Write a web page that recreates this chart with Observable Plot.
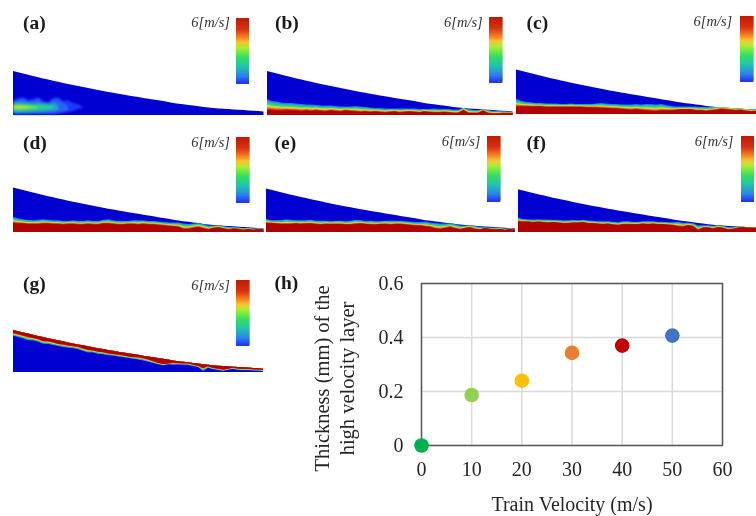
<!DOCTYPE html>
<html>
<head>
<meta charset="utf-8">
<script src="https://cdn.jsdelivr.net/npm/d3@7"></script>
<script src="https://cdn.jsdelivr.net/npm/@observablehq/plot@0.6"></script>
<style>
html,body{margin:0;padding:0;background:#fff;overflow:hidden}
#page{position:relative;width:756px;height:516px;overflow:hidden;background:#fff}
#page svg{position:absolute;display:block;filter:blur(0.35px)}
</style>
</head>
<body>
<div id="page"></div>
<script>
// Scatter panel (h)
const trainVelocity = [0, 10, 20, 30, 40, 50];
const layerThickness = [0, 0.187, 0.24, 0.343, 0.37, 0.407];
const pointColors = ["#00b050", "#92d050", "#ffc000", "#ed7d31", "#c00000", "#4472c4"];
const xTicks = [0, 10, 20, 30, 40, 50, 60];
const yTicks = [0, 0.2, 0.4, 0.6];

// Field panels: distance along the wedge and wedge height
const stations = d3.range(51).map(i => i * 5);
const wedgeTop = [44,42.7,41.5,40.3,39,37.8,36.6,35.4,34.3,33.2,32.1,31,29.9,28.9,27.9,26.9,25.9,25,24,23.1,22.2,21.3,20.5,19.6,18.8,18,17.1,16.3,15.5,14.7,13.9,13,12,11.3,10.7,10.1,9.4,8.8,8,7.5,7,6.6,6.2,5.9,5.6,5.3,4.9,4.6,4.2,3.9,3.5];

// (a): isolated jet, lower and upper edge per velocity level
const aFaintLo = [1,0.5,1,0.5,1,0.5,1,1,0.5,1,2,3,4,6,7];
const aFaintHi = [14,17,18,15,16,18,14,13,17,18,14,15,12,11,8];
const aHazeLo = [1.5,1,1.5,1,1.5,1.5,2,1.5,2,3,3.5,4.5];
const aHazeHi = [13,15,16,14,14,16,13,12,15,15,12,9];
const aTealLo = [3,2.5,2.5,3,3,3.5,3.5,4,4.5,5];
const aTealHi = [12,13,12.5,12,11.5,12,11.5,11,11.5,10];
const aGreenLo = [4.5,4,4.5,4.5,5,5,5.5,6,6.5];
const aGreenHi = [10.5,11,10.5,10.5,10,10,10,9.5,9];
const aLimeLo = [5.5,5.5,5.5,6,6.5,7];
const aLimeHi = [9.5,10,10,9.5,9,8.5];
const aYellowLo = [7,7,7,7.3];
const aYellowHi = [8.5,8.8,8.8,8.5];

// (b)-(f): top of the solid red layer and of the transition band
const bRed = [5,5,4.5,4.5,4.8,4.5,4.5,4,4.5,4,4.5,4,3.5,4.5,4,3.5,4.5,4,3.5,3,3.5,3,3.5,3,2.5,3,3.5,2.5,3,3.5,3,2.5,3.5,3,2.5,2.5,3,2.5,2,2,5,2,2,2,4.5,2,1.5,1.5,2,2,2];
const bBand = [16,14,13.5,12.5,12,12,11.5,11,10.5,10.5,10,9.5,9.5,9.5,9,8.5,8.5,8.5,9,8.5,8,7.5,7,7,6.5,6.5,6.5,6.5,6.5,6.5,6.5,6,6,6,6.5,6,6,6,5.5,5.5,8,6,5,5,7,5,4,4,3.7,3.5,3.3];
const cRed = [7.5,7.5,7.5,7.5,7.5,7.5,7,7,7,7,7,7,7,7,6.5,6.5,6.5,6,6,5.5,5.5,5,4.5,4,4.5,4,3.5,3,3,3.5,3.5,3.5,4,4.5,4.5,4.5,3.5,3.5,3,3.5,4,5,4.5,4,3.5,4,3,2.5,3,3,3];
const cBand = [15,13,12,11.5,11,11,10.5,10.5,10.5,10,10,10.5,10,10,10,10,10.5,11,10.5,10,10,9.5,9.5,9.5,10,9.5,10,10,9.5,10,9,8,7.5,7.5,7.5,7.5,7.5,7,7,7,8,8.5,8,7.5,7,7,6,5.5,5,4.5,4];
const dRed = [9,8.5,8.5,8,8,8,8.5,8.5,8,8,7.5,8,8,7.5,7.5,8,7.5,7.5,8.5,8.5,8,7.5,7.5,8,8,7.5,8,7.5,7.5,7,6.5,6,5.5,5,3,3,4,5,3.5,2.5,4,4.5,3.5,2.5,3.5,3,2,3,2,3,2.5];
const dBand = [15,13.5,12.5,12,11.5,12,12.5,12,11.5,11.5,11,11,11.5,11,11,11.5,11,11,12,12.5,11.5,11,11,11,11.5,11.5,11.5,11,11,10.5,10,9.5,9.5,9.5,8.5,8,8.5,9,8,6.5,6.5,7,6,5,5,4.5,4,4,3.5,3.5,3.3];
const eRed = [9,9,8.5,8,8,8,8.5,8,8.5,8.5,8,7.5,8,8,8,8,7.5,7.5,8,8.5,8,7.5,7.5,8,8,7.5,8,8,7.5,7,6.5,6.5,5.5,5,3.5,3,4,5,3.5,2.5,4,4.5,3,2.5,4,3,2.5,3,2,3,2.5];
const eBand = [13.5,12,12,12,13,12.5,12,12,12,12.5,11.5,11.5,11.5,11,11.5,11.5,11,11.5,12.5,12,11,11.5,11,11,11.5,11.5,11.5,11.5,11,10.5,10,10,10.5,9.5,9,8.5,8.5,9,8,6.5,6.5,7,6,5,4.5,4.5,4,4,3.5,3.5,3.3];
const fRed = [11,10.5,10.5,10,10.5,10,9.5,10,9.5,9,9,9.5,9.5,10,9,9,8.5,8,8.5,7.5,7,8,8,8,8,8.5,8,8.5,8,8,7.5,7,6,5.5,7,6,2,4.5,4.5,3.5,5,4,2.5,3,4.5,5,4.5,4.5,4,3,3];
const fBand = [15,13.5,13,13,13,13,13,12.5,12.5,12,12,12.5,12,12.5,12,11.5,11,11,11,10.5,10,11,11,10.5,10.5,11,11,11,10.5,10.5,10,10,10.5,9.5,9.5,9,7,7,7,6.5,7,6.5,5,5,6,6,5.5,5,4.5,4,4];

// (g): depth of the red layer and of the transition band below the wedge surface
const gRedDepth = [3,3,3,3.5,3,3,4,3,3,3.5,3,3,2.5,2.5,3,3.5,3,3.5,3,3.5,3,3,3,3,3,2.3,2.5,3,4,5,5.3,4,2.3,2,1.5,1,1.5,2.3,3.7,1.3,2.7,3,3.7,2.5,1,1.7,1.5,1.3,1.3,1.2,1.2];
const gBandDepth = [6,6,6.5,7,6,6,7,6,6,6,6,5.5,5,5,6,6.5,5.5,6,5.5,5.5,5,5,5,5,5,5,5,5.5,6,6.5,6.7,5,4.3,3.5,3,2.7,3,3.5,7,3,4,4.5,5,3.5,2.5,3.3,3,2.7,2.5,2.5,2.5];

// Velocity colour scale
const velocityStops = [0, 0.7, 1.5, 2.4, 3.3, 3.8, 4.3, 5, 6, 6.5];
const velocityColors = ["#1c2cff", "#2a80f0", "#20c0b0", "#30e060", "#a8f030", "#ffc030", "#f57a20", "#d83010", "#c01800", "#b00000"];
const velocityScale = {type: "linear", domain: velocityStops, range: velocityColors};
const colorbarSteps = d3.range(0, 6, 0.125);
const bandLevels = [[0.6, 1], [1.5, 0.82], [2.4, 0.62], [3.3, 0.48], [3.8, 0.36], [4.4, 0.24], [5.2, 0.12], [6.5, 0]];
const wedgeBlue = "#0000d2";

const serif = "'Liberation Serif','Times New Roman',serif";
const page = document.getElementById("page");
function place(svg, left, top) {
  svg.style.left = left + "px";
  svg.style.top = top + "px";
  page.appendChild(svg);
}
function softened(amount) {
  return (index, scales, values, dimensions, context, next) => {
    const g = next(index, scales, values, dimensions, context);
    g.style.filter = `blur(${amount}px)`;
    return g;
  };
}

function risingRows(red, band) {
  return bandLevels.flatMap(([level, t]) => stations.map((x, i) => ({
    x, level, y1: 0, y2: Math.min(wedgeTop[i], red[i] + (band[i] - red[i]) * t)
  })));
}
function surfaceRows(redDepth, bandDepth) {
  return bandLevels.flatMap(([level, t]) => stations.map((x, i) => ({
    x, level, y1: Math.max(0, wedgeTop[i] - (redDepth[i] + (bandDepth[i] - redDepth[i]) * t)), y2: wedgeTop[i]
  })));
}
function jetRows() {
  const layer = (level, lo, hi) => lo.map((y1, i) => ({x: stations[i], level, y1, y2: hi[i]}));
  return [
    ...layer(0.1, aFaintLo, aFaintHi),
    ...layer(0.5, aHazeLo, aHazeHi),
    ...layer(1.2, aTealLo, aTealHi),
    ...layer(2.0, aGreenLo, aGreenHi),
    ...layer(2.9, aLimeLo, aLimeHi),
    ...layer(3.6, aYellowLo, aYellowHi)
  ];
}

const panels = [
  {tag: "(a)", rows: jetRows(), blur: 1, left: 12.5, bottom: 115, w: 250.5, h: 44, tagX: 22, tagY: 28, unitX: 229, unitY: 26, barX: 235.7, barY: 17.7},
  {tag: "(b)", rows: risingRows(bRed, bBand), blur: 0.5, left: 266.5, bottom: 115, w: 245.5, h: 44, tagX: 274, tagY: 28, unitX: 481.7, unitY: 26, barX: 489.3, barY: 17},
  {tag: "(c)", rows: risingRows(cRed, cBand), blur: 0.5, left: 516, bottom: 113.5, w: 250, h: 44.5, tagX: 526, tagY: 28, unitX: 731.7, unitY: 25, barX: 740, barY: 16},
  {tag: "(d)", rows: risingRows(dRed, dBand), blur: 0.5, left: 12.5, bottom: 232, w: 250.5, h: 44.5, tagX: 22, tagY: 148, unitX: 229, unitY: 146.7, barX: 236, barY: 137},
  {tag: "(e)", rows: risingRows(eRed, eBand), blur: 0.5, left: 266, bottom: 232, w: 249, h: 43.5, tagX: 274, tagY: 148, unitX: 480, unitY: 145.5, barX: 487.3, barY: 136.3},
  {tag: "(f)", rows: risingRows(fRed, fBand), blur: 0.5, left: 518, bottom: 232, w: 250, h: 42.7, tagX: 526, tagY: 148, unitX: 733, unitY: 145.5, barX: 740.7, barY: 136.3},
  {tag: "(g)", rows: surfaceRows(gRedDepth, gBandDepth), blur: 0.5, left: 12.5, bottom: 372, w: 250, h: 42, tagX: 22, tagY: 289, unitX: 229, unitY: 289, barX: 236, barY: 280}
];
const wedgeRows = stations.map((x, i) => ({x, y: wedgeTop[i]}));

for (const p of panels) {
  const top = p.bottom - 116;
  const svg = Plot.plot({
    width: 252, height: 117,
    marginTop: 0, marginRight: 0, marginBottom: 1, marginLeft: 0,
    x: {domain: [0, 250], range: [0, p.w], axis: null},
    y: {domain: [0, 44], range: [116, 116 - p.h], axis: null},
    color: velocityScale,
    style: {background: "transparent", fontFamily: serif},
    marks: [
      Plot.areaY(wedgeRows, {x: "x", y: "y", fill: wedgeBlue}),
      Plot.areaY(p.rows, {x: "x", y1: "y1", y2: "y2", z: "level", fill: "level", render: softened(p.blur)}),
      Plot.text([p.tag], {frameAnchor: "top-left", lineAnchor: "bottom", textAnchor: "start",
        dx: p.tagX - p.left, dy: p.tagY - top, fontSize: 19.5, fontWeight: "bold", fill: "#1a1a1a"}),
      Plot.text(["6[m/s]"], {frameAnchor: "top-left", lineAnchor: "bottom", textAnchor: "end",
        dx: p.unitX - p.left, dy: p.unitY - top, fontSize: 14.5, fontStyle: "italic", fill: "#333"})
    ]
  });
  place(svg, p.left, top);
  const bar = Plot.plot({
    width: 13.6, height: 66,
    margin: 0,
    x: {domain: [0, 1], axis: null},
    y: {domain: [0, 6], axis: null},
    color: velocityScale,
    clip: true,
    style: {background: "transparent"},
    marks: [Plot.rect(colorbarSteps, {x1: 0, x2: 1, y1: d => d, y2: d => d + 0.3, fill: d => d + 0.06})]
  });
  place(bar, p.barX, p.barY);
}

// Panel (h)
const scatterRows = trainVelocity.map((v, i) => ({v, t: layerThickness[i], c: pointColors[i]}));
const scatter = Plot.plot({
  width: 496, height: 256,
  marginLeft: 161, marginRight: 34, marginTop: 23, marginBottom: 71,
  x: {domain: [0, 60], ticks: xTicks},
  y: {domain: [0, 0.6], ticks: yTicks},
  color: {type: "identity"},
  style: {background: "transparent", fontFamily: serif, color: "#262626"},
  marks: [
    Plot.gridX(xTicks, {stroke: "#d9d9d9", strokeOpacity: 1, strokeWidth: 1.5}),
    Plot.gridY(yTicks, {stroke: "#d9d9d9", strokeOpacity: 1, strokeWidth: 1.5}),
    Plot.frame({stroke: "#595959", strokeWidth: 1.5}),
    Plot.axisX(xTicks, {tickSize: 0, tickPadding: 16, fontSize: 20, label: null, tickFormat: d => String(d)}),
    Plot.axisY(yTicks, {tickSize: 0, tickPadding: 18, fontSize: 20, label: null, tickFormat: d => String(d)}),
    Plot.dot(scatterRows, {x: "v", y: "t", r: 7.3, fill: "c"}),
    Plot.text(["(h)"], {frameAnchor: "top-left", lineAnchor: "bottom", textAnchor: "start", dx: 274 - 421, dy: 288 - 283, fontSize: 19.5, fontWeight: "bold", fill: "#1a1a1a"}),
    Plot.text(["Train Velocity (m/s)"], {frameAnchor: "bottom", lineAnchor: "bottom", dy: 65, fontSize: 20, fill: "#262626"}),
    Plot.text(["Thickness (mm) of the\nhigh velocity layer"], {frameAnchor: "left", rotate: -90, textAnchor: "middle", lineAnchor: "middle", lineHeight: 1.2, dx: -88, dy: 14, fontSize: 20.5, fill: "#262626"})
  ]
});
place(scatter, 260, 260);
</script>
</body>
</html>
